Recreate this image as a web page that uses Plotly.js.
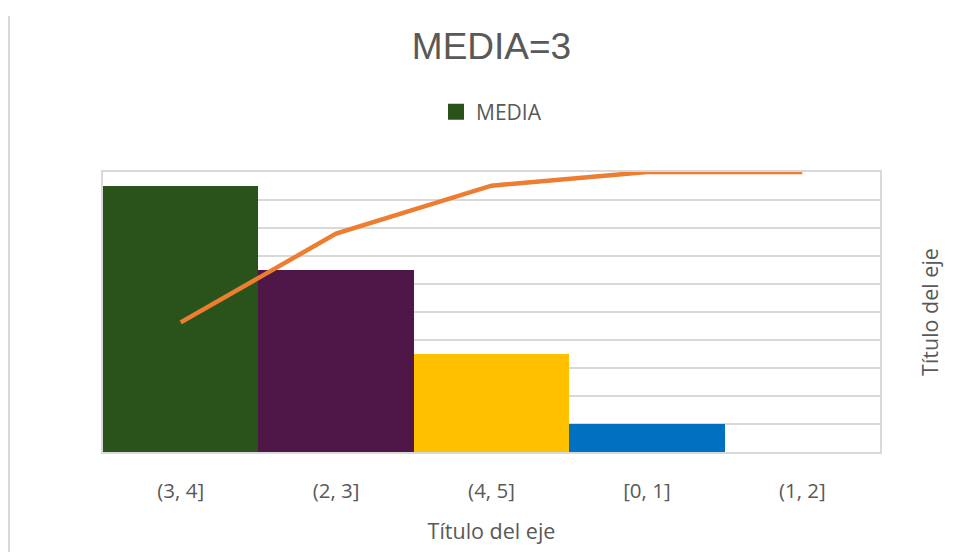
<!DOCTYPE html>
<html>
<head>
<meta charset="utf-8">
<script src="https://cdn.plot.ly/plotly-3.0.1.min.js"></script>
<style>
  html, body { margin: 0; padding: 0; background: #ffffff; }
  #chart { width: 964px; height: 552px; }
</style>
</head>
<body>
<div id="chart"></div>
<script>
const categories = ["(3, 4]", "(2, 3]", "(4, 5]", "[0, 1]", "(1, 2]"];
const counts = [19, 13, 7, 2, 0];
const cumulativePct = [46.3, 78.0, 95.1, 100, 100];
const barColors = ["#29531A", "#4F1748", "#FFC000", "#0070C0", "#7F7F7F"];
const titleText = "MEDIA=3";
const seriesName = "MEDIA";
const axisTitle = "Título del eje";

const tickFont = "Open Sans, Noto Sans, sans-serif";

const traces = [
  {
    type: "bar",
    x: categories,
    y: counts,
    name: seriesName,
    marker: { color: barColors, line: { width: 0 } },
    showlegend: false,
    hoverinfo: "x+y"
  },
  {
    type: "scatter",
    mode: "lines",
    x: categories,
    y: cumulativePct,
    yaxis: "y2",
    line: { color: "#ED7D31", width: 4.5 },
    showlegend: false,
    hoverinfo: "x+y"
  },
  {
    type: "scatter",
    mode: "markers",
    x: [null],
    y: [null],
    name: seriesName,
    marker: { symbol: "square", size: 18, color: barColors[0] },
    showlegend: true,
    hoverinfo: "skip"
  }
];

const layout = {
  width: 964,
  height: 552,
  margin: { l: 103, r: 84, t: 172, b: 100 },
  paper_bgcolor: "#ffffff",
  plot_bgcolor: "#ffffff",
  bargap: 0,
  title: {
    text: titleText,
    font: { family: "Liberation Sans, Arial, sans-serif", size: 37, color: "#595959" },
    x: 0.5, xref: "paper", xanchor: "center",
    y: 1 - 46 / 552, yref: "container", yanchor: "middle"
  },
  showlegend: true,
  legend: {
    orientation: "h",
    x: 0.5, xanchor: "center",
    y: (452 - 112) / 280, yanchor: "middle",
    font: { family: tickFont, size: 21, color: "#595959" },
    itemwidth: 30
  },
  xaxis: {
    type: "category",
    showline: true, mirror: true, linecolor: "#D9D9D9", linewidth: 1.5,
    showgrid: false,
    ticks: "",
    ticklabelstandoff: 20,
    tickfont: { family: tickFont, size: 20.5, color: "#595959" },
    title: { text: axisTitle, font: { family: tickFont, size: 21.5, color: "#595959" }, standoff: 21 }
  },
  yaxis: {
    range: [0, 20],
    dtick: 2,
    showticklabels: false,
    showgrid: true, gridcolor: "#D9D9D9", gridwidth: 1.5,
    showline: true, mirror: true, linecolor: "#D9D9D9", linewidth: 1.5,
    zeroline: false,
    ticks: "",
    fixedrange: true
  },
  yaxis2: {
    overlaying: "y",
    side: "right",
    range: [0, 100],
    showticklabels: false,
    showgrid: false,
    zeroline: false,
    showline: false,
    ticks: "",
    title: { text: axisTitle, font: { family: tickFont, size: 21.5, color: "#595959" }, standoff: 42 }
  },
  shapes: [
    {
      type: "line", xref: "paper", yref: "paper",
      x0: (9 - 103) / 777, x1: (9 - 103) / 777,
      y0: (452 - 16) / 280, y1: (452 - 552) / 280,
      line: { color: "#D9D9D9", width: 2 }
    }
  ]
};

Plotly.newPlot("chart", traces, layout, { displayModeBar: false, responsive: false });
</script>
</body>
</html>
